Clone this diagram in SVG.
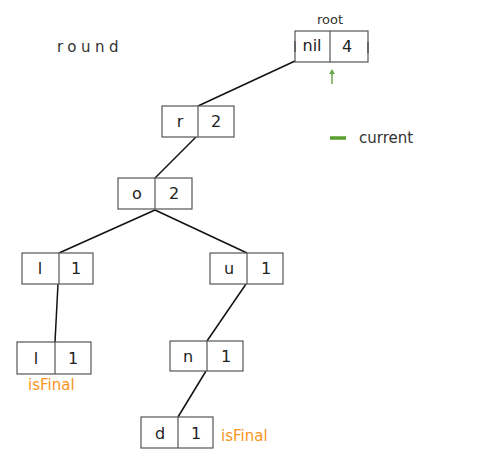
<svg xmlns="http://www.w3.org/2000/svg" width="480" height="466" viewBox="0 0 480 466">
<style>
.box{fill:#fff;stroke:#555;stroke-width:1.2}
.lbl{font-family:"DejaVu Sans",Verdana,sans-serif;font-size:16px;fill:#222;text-anchor:middle}
.edge{stroke:#111;stroke-width:1.5;fill:none}
.fin{font-family:"DejaVu Sans",Verdana,sans-serif;font-size:15px;fill:#f7941d}
.txt{font-family:"DejaVu Sans",Verdana,sans-serif;font-size:15px;fill:#333}
</style>
<rect width="480" height="466" fill="#fff"/>
<text class="txt" x="57" y="52" letter-spacing="4.5">round</text>
<g id="legend">
<line x1="330" y1="138" x2="346" y2="138" stroke="#5a9e2f" stroke-width="3.5"/>
<text class="txt" x="359" y="143">current</text>
</g>
<g id="connectors">
<line class="edge" x1="295" y1="61" x2="198" y2="106"/>
<line class="edge" x1="196" y1="137" x2="155" y2="178"/>
<line class="edge" x1="155" y1="210" x2="59" y2="253"/>
<line class="edge" x1="155" y1="210" x2="247" y2="253"/>
<line class="edge" x1="58" y1="284" x2="55" y2="342"/>
<line class="edge" x1="246" y1="284" x2="207" y2="341"/>
<line class="edge" x1="206" y1="371" x2="178" y2="417"/>
<line x1="332" y1="84" x2="332" y2="73" stroke="#6aa84f" stroke-width="1.5"/>
<polygon points="332,69 329,74 335,74" fill="#6aa84f"/>
</g>
<g id="root">
<text x="330" y="24" font-family="DejaVu Sans,Verdana,sans-serif" font-size="13" fill="#333" text-anchor="middle">root</text>
<rect class="box" x="295" y="31" width="73" height="31"/>
<line class="box" x1="330" y1="31" x2="330" y2="62"/>
<line x1="295" y1="41" x2="295" y2="52" stroke="#666" stroke-width="2"/>
<line x1="368" y1="42" x2="368" y2="53" stroke="#666" stroke-width="2"/>
<text class="lbl" x="312" y="51" font-size="13">nil</text>
<text class="lbl" x="347" y="52">4</text>
</g>
<g id="r">
<rect class="box" x="162" y="106" width="72" height="31"/>
<line class="box" x1="198" y1="106" x2="198" y2="137"/>
<text class="lbl" x="180" y="127">r</text>
<text class="lbl" x="216" y="127">2</text>
</g>
<g id="o">
<rect class="box" x="118" y="178" width="74" height="31"/>
<line class="box" x1="155" y1="178" x2="155" y2="209"/>
<text class="lbl" x="137" y="199">o</text>
<text class="lbl" x="174" y="199">2</text>
</g>
<g id="l1">
<rect class="box" x="22" y="253" width="71" height="31"/>
<line class="box" x1="59" y1="253" x2="59" y2="284"/>
<text class="lbl" x="40" y="274">l</text>
<text class="lbl" x="76" y="274">1</text>
</g>
<g id="u">
<rect class="box" x="210" y="253" width="73" height="31"/>
<line class="box" x1="247" y1="253" x2="247" y2="284"/>
<text class="lbl" x="229" y="274">u</text>
<text class="lbl" x="266" y="274">1</text>
</g>
<g id="l2">
<rect class="box" x="17" y="342" width="74" height="32"/>
<line class="box" x1="55" y1="342" x2="55" y2="374"/>
<text class="lbl" x="36" y="364">l</text>
<text class="lbl" x="73" y="364">1</text>
<text class="fin" x="28" y="390">isFinal</text>
</g>
<g id="n">
<rect class="box" x="170" y="341" width="73" height="30"/>
<line class="box" x1="207" y1="341" x2="207" y2="371"/>
<text class="lbl" x="188" y="362">n</text>
<text class="lbl" x="226" y="362">1</text>
</g>
<g id="d">
<rect class="box" x="141" y="417" width="72" height="31"/>
<line class="box" x1="178" y1="417" x2="178" y2="448"/>
<text class="lbl" x="160" y="439">d</text>
<text class="lbl" x="196" y="439">1</text>
<text class="fin" x="221" y="441">isFinal</text>
</g>
</svg>
